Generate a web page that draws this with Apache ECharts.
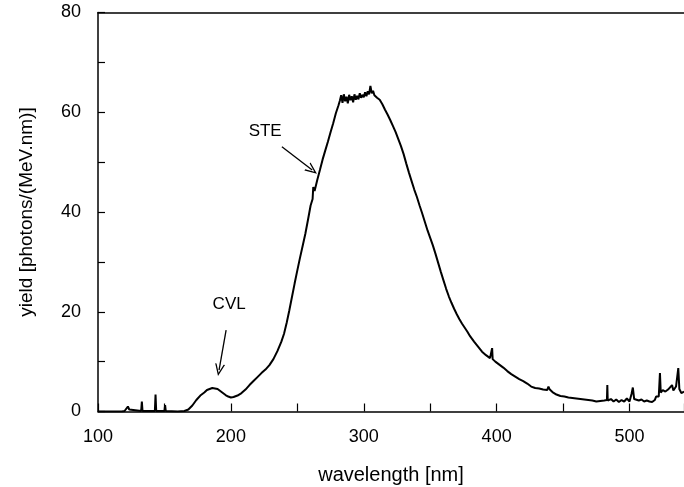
<!DOCTYPE html>
<html>
<head>
<meta charset="utf-8">
<script src="https://cdn.jsdelivr.net/npm/echarts@6/dist/echarts.min.js"></script>
<style>html,body{margin:0;padding:0;background:#fff;}#c{width:684px;height:487px;}</style>
</head>
<body>
<div id="c"></div>
<script>
// wavelength (nm)
const wavelength = [100,110,118,120,121.5,122.5,123.5,125,132.5,133,133.5,142.8,143.3,143.8,150,150.5,151,160,165,168,171,174,177,180,182,184,186,188,190,192,194,196,198,200,202,205,208,211,214,217,220,223,226,229,232,235,238,240,242,244,246,248,250,252,254,256,258,260,261.5,262,263,265,267,269,271,273,275,277,279,281,282,
283,284,285,286,287,288,289,290,291,292,293,294,295,296,297,298,299,300,301,302,303,304,305,306,307,308,309,310,312,314,316,318,320,322,324,326,328,330,332,334,336,338,340,342,344,346,348,350,352,354,356,358,360,362,364,366,368,370,372,374,376,378,380,383,386,389,392,395,396.3,396.6,397,399,402,405,408,411,414,417,420,423,426,429,432,435,438,439,440,442,445,448,451,454,457,460,463,466,469,472,475,478,481,483,483.3,483.6,486,488,490,492,494,496,498,500,501.5,502.5,503.5,505,507,509,511,513,515,517,519,520,521,522,522.9,523.5,525,527,529,530,532,533,535,536.7,537.5,539,541];
// yield (photons/(MeV.nm))
const yieldValues = [0,0,0,0.1,0.5,1.0,0.4,0,0.1,2.0,0.1,0.1,3.4,0.1,0.1,1.3,0.1,0,0.1,0.4,1.2,2.3,3.2,3.8,4.3,4.5,4.7,4.6,4.5,4.1,3.7,3.3,3.0,2.8,2.9,3.2,3.7,4.4,5.3,6.1,6.9,7.7,8.4,9.3,10.5,12.1,14.0,15.6,17.8,20.3,23.0,25.7,28.3,30.8,33.2,35.6,38.4,41.3,42.6,45.0,44.2,46.4,48.4,50.5,52.3,54.1,56.0,57.8,59.8,61.4,62.3,
63.4,61.9,63.6,62.2,63.1,61.8,63.5,62.4,63.2,62.0,63.6,62.5,63.3,62.6,63.8,62.9,63.5,63.0,64.0,63.2,64.2,63.6,65.3,63.8,64.3,63.4,63.6,62.9,62.5,61.6,60.5,59.5,58.4,57.2,56.0,54.6,53.2,51.6,49.7,47.9,46.2,44.5,43.0,41.3,39.7,38.0,36.3,34.8,33.3,31.6,29.8,28.0,26.3,24.6,23.1,21.8,20.6,19.5,18.5,17.6,16.8,16.0,15.1,14.0,13.0,12.0,11.3,10.7,10.5,12.7,10.5,10.0,9.4,8.8,8.1,7.5,7.0,6.5,6.1,5.6,5.0,4.7,4.6,4.4,4.3,5.0,4.4,3.9,3.4,3.1,3.0,2.8,2.7,2.6,2.5,2.4,2.3,2.2,2.0,2.1,2.2,2.3,5.3,2.2,2.5,2.0,2.4,1.9,2.3,2.0,2.6,2.0,3.5,4.8,2.5,2.8,2.2,2.4,2.0,2.2,2.0,1.9,2.3,3.0,3.3,3.0,7.7,3.8,4.3,4.0,4.4,4.0,5.3,4.2,5.0,8.7,4.5,3.7,4.0];
const xTickLabels = [100,200,300,400,500];
const yTickLabels = [0,20,40,60,80];
const annotations = [
  {name:'STE', at:[225.8,56.1], from:[238.4,53.1], to:[261.2,48.4]},
  {name:'CVL', at:[198.7,21.5], from:[196.4,16.3], to:[191.1,8.3]}
];

const chart = echarts.init(document.getElementById('c'));
const font = 'Liberation Sans, Arial, Helvetica, sans-serif';
const arrowHead = 'path://M5,0 L10,10 L8.6,10 L5,2.8 L1.4,10 L0,10 Z';
chart.setOption({
  animation:false,
  backgroundColor:'#fff',
  grid:{left:98, right:0, top:12.5, bottom:75.5, containLabel:false, outerBoundsMode:'none'},
  xAxis:[{
    type:'value', min:100, max:541, interval:50,
    name:'wavelength [nm]', nameLocation:'middle', nameGap:54,
    nameTextStyle:{fontFamily:font, fontSize:20, color:'#000'},
    axisLine:{show:true, lineStyle:{color:'#000', width:1.5}},
    axisTick:{show:true, inside:true, length:8, lineStyle:{color:'#000', width:1.2}},
    axisLabel:{show:true, margin:17, fontFamily:font, fontSize:18, color:'#000',
      formatter:v => xTickLabels.includes(v) ? String(v) : ''},
    splitLine:{show:false}
  },{
    type:'value', min:100, max:541, position:'top',
    axisLine:{show:true, lineStyle:{color:'#000', width:1.5}},
    axisTick:{show:false}, axisLabel:{show:false}, splitLine:{show:false}
  }],
  yAxis:{
    type:'value', min:0, max:80, interval:10,
    name:'yield [photons/(MeV.nm)]', nameLocation:'middle', nameGap:62,
    nameTextStyle:{fontFamily:font, fontSize:19, color:'#000'},
    axisLine:{show:true, lineStyle:{color:'#000', width:1.5}},
    axisTick:{show:true, inside:true, length:7, lineStyle:{color:'#000', width:1.2}},
    axisLabel:{show:true, margin:17, fontFamily:font, fontSize:18, color:'#000',
      formatter:v => yTickLabels.includes(v) ? String(v) : ''},
    splitLine:{show:false}
  },
  series:[{
    type:'line',
    data:wavelength.map((w,i)=>[w, yieldValues[i]]),
    showSymbol:false,
    lineStyle:{color:'#000', width:2},
    markLine:{
      silent:true,
      symbol:['none', arrowHead],
      symbolSize:[10,12],
      lineStyle:{color:'#000', width:1.3, type:'solid'},
      label:{show:false},
      data:annotations.map(a=>[{coord:a.from, symbol:'none'},{coord:a.to, symbol:arrowHead}])
    },
    markPoint:{
      silent:true,
      symbol:'circle', symbolSize:1,
      itemStyle:{color:'rgba(0,0,0,0)'},
      label:{show:true, position:'inside', formatter:'{b}', color:'#000', fontFamily:font, fontSize:17},
      data:annotations.map(a=>({name:a.name, coord:a.at}))
    }
  }]
});
</script>
</body>
</html>
